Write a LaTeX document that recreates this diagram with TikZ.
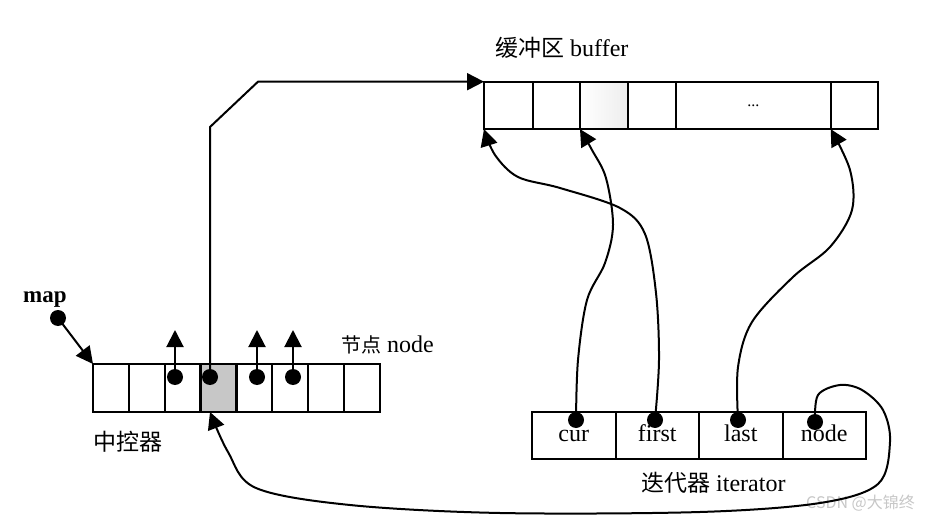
\documentclass[tikz,border=0pt]{standalone}
\usepackage{fontspec}
\setmainfont{Liberation Serif}
\newfontfamily\cjk{Noto Sans CJK SC}
\usetikzlibrary{arrows.meta}
\begin{document}
\begin{tikzpicture}[x=1pt,y=-1pt,
  cell/.style={draw, line width=2pt, inner sep=0pt, outer sep=0pt},
  mcell/.style={cell, minimum width=35.875pt, minimum height=48pt},
  bcell/.style={cell, minimum height=47.4pt},
  icell/.style={cell, minimum width=83.5pt, minimum height=47pt, text height=17pt, text depth=5pt, font=\fontsize{24}{28}\selectfont},
  arr/.style={line width=2pt, -{Triangle[length=17pt,width=17pt]}},
  dot/.style={circle, fill=black, inner sep=0pt, minimum size=16pt},
  lab/.style={inner sep=0pt, font=\fontsize{24}{28}\selectfont},
  cjklab/.style={inner sep=0pt, font=\fontsize{23}{28}\cjk}]
\useasboundingbox (0,0) rectangle (926,521);
% map (central controller)
\foreach \i in {1,2,3,5,6,7,8}
  \node[mcell] (m\i) at ({93+35.875*(\i-0.5)},388) {};
\node[mcell, fill=black!22, line width=2.8pt] (m4) at ({93+35.875*3.5},388) {};
% buffer
\node[bcell, minimum width=48.7pt] (b1) at (508.35,105.4) {};
\node[bcell, minimum width=47.3pt] (b2) at (556.35,105.4) {};
\node[bcell, minimum width=48.3pt, left color=white, right color=black!7] (b3) at (604.15,105.4) {};
\node[bcell, minimum width=47.7pt] (b4) at (652.15,105.4) {};
\node[bcell, minimum width=154.7pt, font=\fontsize{16}{18}\selectfont] (b5) at (753.35,105.4) {...};
\node[bcell, minimum width=47.6pt] (b6) at (854.5,105.4) {};
% iterator
\node[icell] (i1) at (573.75,435.5) {cur};
\node[icell] (i2) at (657.25,435.5) {first};
\node[icell] (i3) at (740.75,435.5) {last};
\node[icell] (i4) at (824.25,435.5) {node};
% labels
\node[lab, anchor=west] (lbuf) at (495,48) {{\cjk\fontsize{23}{28}\selectfont 缓冲区} buffer};
\node[lab, anchor=west] (lnode) at (341,345) {{\cjk\fontsize{20}{24}\selectfont 节点} node};
\node[cjklab, anchor=west] (lctl) at (93,442) {中控器};
\node[lab, anchor=west] (liter) at (641,483) {{\cjk\fontsize{23}{28}\selectfont 迭代器} iterator};
\node[lab, anchor=west, font=\fontsize{23}{28}\selectfont\bfseries] (lmap) at (23,300) {map};
\node[inner sep=0pt, anchor=west, text=black!22, font=\fontsize{16}{20}\cjk] (wm) at (806,503) {CSDN @大锦终};
% dots
\node[dot] (mapdot) at (58,318) {};
\node[dot] (d3) at (175,377) {};
\node[dot] (d4) at (210,377) {};
\node[dot] (d5) at (257,377) {};
\node[dot] (d6) at (293,377) {};
\node[dot] (dc) at (576,420) {};
\node[dot] (df) at (655,420) {};
\node[dot] (dl) at (738,420) {};
\node[dot] (dn) at (815,422) {};
% free ends
\coordinate (u3) at (175,330);
\coordinate (u5) at (257,330);
\coordinate (u6) at (293,330);
\coordinate (k1) at (210,127);
\coordinate (k2) at (258,81.7);
% connectors
\draw[arr] (mapdot.center) -- (m1.north west);
\draw[arr] (d3.center) -- (u3);
\draw[arr] (d5.center) -- (u5);
\draw[arr] (d6.center) -- (u6);
\draw[arr] (d4.center) -- (k1) -- (k2) -- (b1.north west);
\draw[arr] plot[smooth, tension=0.55] coordinates {(dc.center) (578,360) (587,300) (605,263) (613,225) (606,178) (592,150) (b3.south west)};
\draw[arr] plot[smooth, tension=0.55] coordinates {(df.center) (659,360) (656,293) (645,234) (620,208) (560,188) (518,177) (495,155) (b1.south west)};
\draw[arr] plot[smooth, tension=0.55] coordinates {(dl.center) (738,367) (752,322) (793,277) (830,247) (852,210) (850,170) (b6.south west)};
\draw[arr] plot[smooth, tension=0.55] coordinates {(dn.center) (818,395) (840,385) (862,390) (883,410) (890,442) (878,484) (820,503) (700,512) (500,513) (350,505) (256,488) (228,452) (d4 |- m4.south)};
\end{tikzpicture}
\end{document}
